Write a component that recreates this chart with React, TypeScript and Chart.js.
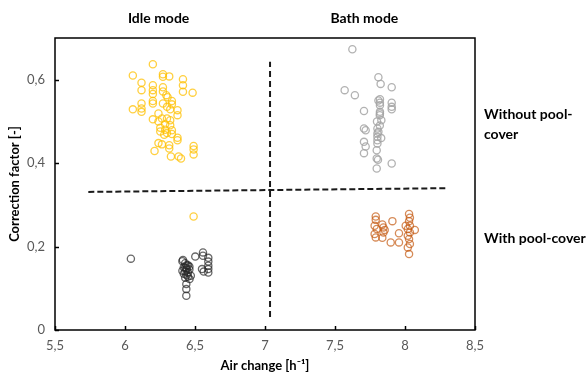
import React, { useEffect, useRef } from "react";
import { Chart, registerables } from "chart.js";

Chart.register(...registerables);

// ---------- data ----------
const xTickValues = [5.5, 6, 6.5, 7, 7.5, 8, 8.5];
const xTickLabels = ["5,5", "6", "6,5", "7", "7,5", "8", "8,5"];
const yTickValues = [0, 0.2, 0.4, 0.6];
const yTickLabels = ["0", "0,2", "0,4", "0,6"];

const xTitle = "Air change [h\u207B\u00B9]";
const yTitle = "Correction factor [-]";
const modeLabels = ["Idle mode", "Bath mode"];
const withoutCoverLabel = ["Without pool-", "cover"];
const withCoverLabel = ["With pool-cover"];

// Idle mode, without pool-cover (yellow)
const idleWithoutCover: [number, number][] = [
  [6.199, 0.637], [6.056, 0.61], [6.271, 0.613], [6.271, 0.607], [6.316, 0.608],
  [6.118, 0.593], [6.118, 0.575], [6.414, 0.601], [6.414, 0.587], [6.414, 0.571],
  [6.199, 0.587], [6.199, 0.575], [6.199, 0.566], [6.271, 0.582], [6.271, 0.572],
  [6.483, 0.569], [6.295, 0.563], [6.304, 0.558], [6.199, 0.549], [6.199, 0.543],
  [6.118, 0.543], [6.118, 0.531], [6.118, 0.523], [6.056, 0.529], [6.375, 0.527],
  [6.375, 0.515], [6.199, 0.505], [6.271, 0.543], [6.3, 0.535], [6.335, 0.549],
  [6.335, 0.541], [6.323, 0.529], [6.239, 0.519], [6.264, 0.507], [6.239, 0.5],
  [6.3, 0.507], [6.323, 0.503], [6.287, 0.493], [6.323, 0.491], [6.252, 0.485],
  [6.287, 0.48], [6.335, 0.479], [6.252, 0.476], [6.3, 0.472], [6.335, 0.47],
  [6.28, 0.468], [6.375, 0.461], [6.375, 0.455], [6.239, 0.448], [6.264, 0.445],
  [6.316, 0.443], [6.316, 0.435], [6.211, 0.429], [6.328, 0.416], [6.383, 0.416],
  [6.4, 0.411], [6.49, 0.441], [6.49, 0.433], [6.49, 0.421], [6.49, 0.272],
];

// Bath mode, without pool-cover (grey)
const bathWithoutCover: [number, number][] = [
  [7.624, 0.673], [7.81, 0.606], [7.826, 0.59], [7.905, 0.582], [7.569, 0.575],
  [7.642, 0.563], [7.821, 0.553], [7.821, 0.545], [7.821, 0.539], [7.821, 0.523],
  [7.821, 0.519], [7.905, 0.545], [7.905, 0.535], [7.905, 0.529], [7.707, 0.525],
  [7.831, 0.503], [7.707, 0.483], [7.719, 0.479], [7.803, 0.483], [7.803, 0.471],
  [7.803, 0.463], [7.803, 0.455], [7.803, 0.447], [7.707, 0.451], [7.719, 0.44],
  [7.707, 0.424], [7.798, 0.431], [7.798, 0.411], [7.807, 0.408], [7.798, 0.387],
  [7.905, 0.399], [7.81, 0.55], [7.82, 0.49], [7.8, 0.5], [7.83, 0.46],
  [7.81, 0.475], [7.82, 0.515],
];

// Idle mode, with pool-cover (black)
const idleWithCover: [number, number][] = [
  [6.042, 0.171], [6.502, 0.176], [6.557, 0.186], [6.557, 0.178], [6.595, 0.173],
  [6.595, 0.164], [6.595, 0.154], [6.595, 0.146], [6.595, 0.138], [6.55, 0.146],
  [6.562, 0.14], [6.438, 0.11], [6.438, 0.098], [6.438, 0.082], [6.461, 0.122],
  [6.414, 0.168], [6.41, 0.165], [6.43, 0.16], [6.45, 0.155], [6.42, 0.15],
  [6.44, 0.148], [6.46, 0.145], [6.43, 0.14], [6.45, 0.138], [6.41, 0.142],
  [6.44, 0.132], [6.47, 0.13], [6.43, 0.125], [6.46, 0.152], [6.42, 0.135],
  [6.44, 0.155], [6.45, 0.128], [6.43, 0.15], [6.44, 0.145],
];

// Bath mode, with pool-cover (orange)
const bathWithCover: [number, number][] = [
  [7.791, 0.272], [7.791, 0.264], [7.783, 0.25], [7.798, 0.242], [7.783, 0.23],
  [7.791, 0.222], [7.838, 0.253], [7.846, 0.246], [7.855, 0.24], [7.846, 0.234],
  [7.91, 0.261], [7.838, 0.221], [7.898, 0.21], [7.957, 0.21], [7.957, 0.232],
  [8.029, 0.278], [8.035, 0.269], [8.029, 0.261], [8.035, 0.25], [8.02, 0.242],
  [8.035, 0.234], [8.02, 0.226], [8.029, 0.218], [8.035, 0.206], [8.02, 0.198],
  [8.029, 0.182], [8.07, 0.24], [8.005, 0.25],
];

// Dashed separators
const verticalDivider: [number, number][] = [[7.036, 0.031], [7.036, 0.643]];
const horizontalDivider: [number, number][] = [[5.738, 0.331], [8.304, 0.34]];

const FONT = "Lato, 'Open Sans', sans-serif";

const toPts = (arr: [number, number][]) => arr.map(([x, y]) => ({ x, y }));

const framePlugin = {
  id: "frameAndLabels",
  afterDraw(chart: any) {
    const { ctx, chartArea, scales } = chart;
    const xs = scales.x;
    const ys = scales.y;
    ctx.save();
    // frame
    ctx.strokeStyle = "#000";
    ctx.lineWidth = 1.5;
    ctx.strokeRect(chartArea.left, chartArea.top, chartArea.right - chartArea.left, chartArea.bottom - chartArea.top);
    // inward tick marks
    xTickValues.forEach((v) => {
      const px = Math.round(xs.getPixelForValue(v)) + 0.5;
      ctx.beginPath();
      ctx.moveTo(px, chartArea.bottom);
      ctx.lineTo(px, chartArea.bottom - 4);
      ctx.stroke();
    });
    yTickValues.forEach((v) => {
      const py = Math.round(ys.getPixelForValue(v)) + 0.5;
      ctx.beginPath();
      ctx.moveTo(chartArea.left, py);
      ctx.lineTo(chartArea.left + 4, py);
      ctx.stroke();
    });
    // mode labels
    ctx.fillStyle = "#000";
    ctx.font = `bold 14px ${FONT}`;
    ctx.textAlign = "center";
    ctx.textBaseline = "middle";
    ctx.fillText(modeLabels[0], xs.getPixelForValue(6.24), 18);
    ctx.fillText(modeLabels[1], xs.getPixelForValue(7.71), 18);
    // cover labels
    ctx.textAlign = "left";
    const lx = chartArea.right + 9;
    ctx.fillText(withoutCoverLabel[0], lx, 114);
    ctx.fillText(withoutCoverLabel[1], lx, 134);
    ctx.fillText(withCoverLabel[0], lx, 238);
    ctx.restore();
  },
};

export default function App() {
  const ref = useRef<HTMLCanvasElement | null>(null);
  useEffect(() => {
    if (!ref.current) return;
    const pointDs = (label: string, data: [number, number][], color: string) => ({
      type: "scatter" as const,
      label,
      data: toPts(data),
      showLine: false,
      pointRadius: 3.6,
      pointBorderWidth: 1.3,
      pointBackgroundColor: "rgba(0,0,0,0)",
      pointBorderColor: color,
      borderColor: color,
      backgroundColor: "rgba(0,0,0,0)",
      order: 1,
    });
    const lineDs = (label: string, data: [number, number][], dash: number[]) => ({
      type: "line" as const,
      label,
      data: toPts(data),
      showLine: true,
      borderColor: "#1a1a1a",
      borderWidth: 2,
      borderDash: dash,
      pointRadius: 0,
      fill: false,
      order: 2,
    });
    const chart = new Chart(ref.current, {
      type: "scatter",
      data: {
        datasets: [
          lineDs("vertical", verticalDivider, [6, 4]),
          lineDs("horizontal", horizontalDivider, [6, 3]),
          pointDs("Idle mode, without pool-cover", idleWithoutCover, "rgba(255,192,0,0.75)"),
          pointDs("Bath mode, without pool-cover", bathWithoutCover, "rgba(165,165,165,0.85)"),
          pointDs("Idle mode, with pool-cover", idleWithCover, "rgba(40,40,40,0.7)"),
          pointDs("Bath mode, with pool-cover", bathWithCover, "rgba(197,90,17,0.7)"),
        ] as any,
      },
      options: {
        animation: false,
        responsive: false,
        devicePixelRatio: 1,
        layout: { padding: { top: 38, right: 113, bottom: 0, left: 0 } },
        plugins: { legend: { display: false }, tooltip: { enabled: false } },
        scales: {
          x: {
            type: "linear",
            min: 5.5,
            max: 8.5,
            afterBuildTicks: (s: any) => {
              s.ticks = xTickValues.map((v) => ({ value: v }));
            },
            afterFit: (s: any) => {
              s.height = 46;
            },
            ticks: {
              padding: 8,
              color: "#595959",
              font: { family: FONT, size: 13 },
              callback: (v: any) => {
                const i = xTickValues.indexOf(Number(v));
                return i >= 0 ? xTickLabels[i] : "";
              },
            },
            grid: { display: true, drawOnChartArea: false, drawTicks: false },
            border: { display: false },
            title: {
              display: true,
              text: xTitle,
              color: "#000",
              font: { family: FONT, size: 13, weight: "bold" },
              padding: { top: 0, bottom: 2 },
            },
          },
          y: {
            type: "linear",
            min: 0,
            max: 0.7,
            afterBuildTicks: (s: any) => {
              s.ticks = yTickValues.map((v) => ({ value: v }));
            },
            afterFit: (s: any) => {
              s.width = 55;
            },
            ticks: {
              padding: 10,
              color: "#595959",
              font: { family: FONT, size: 13 },
              callback: (v: any) => {
                const i = yTickValues.indexOf(Number(v));
                return i >= 0 ? yTickLabels[i] : "";
              },
            },
            grid: { display: true, drawOnChartArea: false, drawTicks: false },
            border: { display: false },
            title: {
              display: true,
              text: yTitle,
              color: "#000",
              font: { family: FONT, size: 13, weight: "bold" },
              padding: { top: 7, bottom: 0 },
            },
          },
        },
      },
      plugins: [framePlugin],
    });
    return () => chart.destroy();
  }, []);
  return (
    <canvas
      ref={ref}
      width={588}
      height={376}
      style={{ position: "absolute", left: 0, top: 0, display: "block", width: 588, height: 376 }}
    />
  );
}
